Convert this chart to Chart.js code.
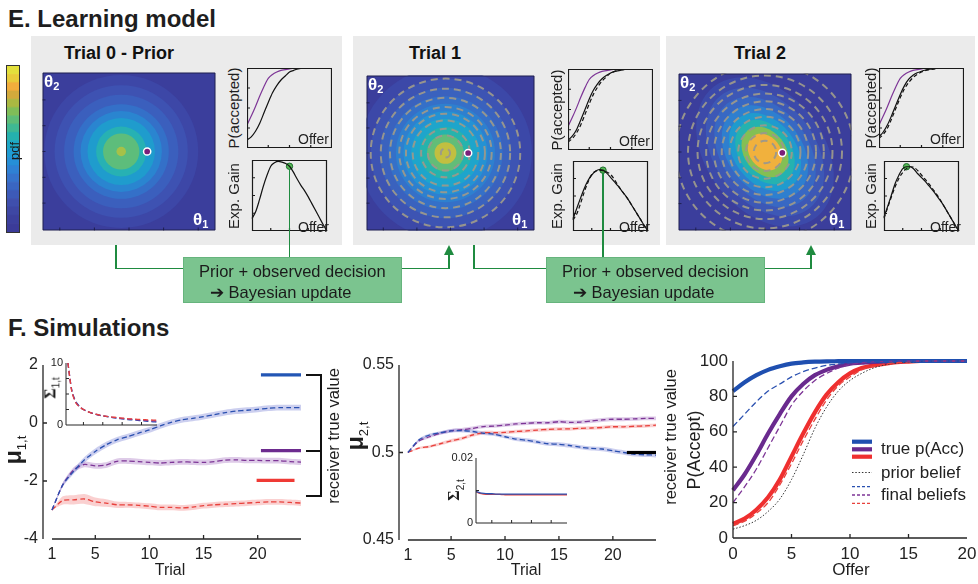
<!DOCTYPE html>
<html>
<head>
<meta charset="utf-8">
<title>Learning model</title>
<script src="https://cdn.jsdelivr.net/npm/chart.js@4.4.1/dist/chart.umd.min.js"></script>
<style>
  html, body { margin: 0; padding: 0; }
  body { width: 978px; height: 584px; position: relative; overflow: hidden; background: #fff;
         font-family: "Liberation Sans", Arial, sans-serif; color: #1e1e1e; }
  canvas { position: absolute; }
  .a { position: absolute; white-space: nowrap; line-height: 1; }
  .c { transform: translate(-50%, -50%); }
  .r { transform: translate(-50%, -50%) rotate(-90deg); }
  .panel { position: absolute; background: #ebebeb; }
  .flow { position: absolute; background: #1f8b40; }
  .box { position: absolute; background: #7bc48f; border: 1px solid #66b47d; box-sizing: border-box; }
  .th { color: #fff; font-weight: bold; font-size: 17px; }
  .th sub { font-size: 11px; vertical-align: -3px; }
</style>
</head>
<body>
<script>
// Data: learning model panels (E)
// ----------------------------------------------
const offers      = [0, 1, 2, 3, 4, 5, 6, 7, 8, 9, 10, 11, 12, 13, 14, 15, 16, 17, 18, 19, 20];
const acceptTrue  = [0.29, 0.40, 0.52, 0.65, 0.77, 0.87, 0.92, 0.95, 0.97, 0.98, 0.99, 0.995, 1, 1, 1, 1, 1, 1, 1, 1, 1];
const belief0     = [0.10, 0.14, 0.21, 0.31, 0.44, 0.57, 0.69, 0.78, 0.85, 0.90, 0.95, 0.97, 0.99, 0.995, 1, 1, 1, 1, 1, 1, 1];
const belief1     = [0.12, 0.17, 0.25, 0.37, 0.50, 0.63, 0.74, 0.82, 0.88, 0.92, 0.95, 0.97, 0.98, 0.99, 1, 1, 1, 1, 1, 1, 1];
const belief2     = [0.14, 0.20, 0.29, 0.41, 0.54, 0.67, 0.78, 0.86, 0.91, 0.94, 0.96, 0.975, 0.985, 0.99, 1, 1, 1, 1, 1, 1, 1];
const gain0       = [0.18, 0.28, 0.45, 0.64, 0.80, 0.93, 0.98, 1.00, 0.99, 0.97, 0.93, 0.85, 0.75, 0.66, 0.58, 0.49, 0.39, 0.29, 0.19, 0.09, 0];
const gain1       = [0.20, 0.37, 0.54, 0.70, 0.83, 0.92, 0.98, 1.01, 1.00, 0.95, 0.88, 0.81, 0.74, 0.66, 0.58, 0.49, 0.39, 0.29, 0.19, 0.09, 0];
const gain2       = [0.22, 0.39, 0.57, 0.75, 0.88, 0.98, 1.01, 1.01, 0.97, 0.90, 0.84, 0.78, 0.71, 0.64, 0.56, 0.48, 0.39, 0.29, 0.19, 0.09, 0];
const chosenOffer = [10, 8, 6];
const chosenGain  = [0.93, 1.00, 1.01];
const gainTop     = [1.02, 1.15, 1.10];

// Colour bar levels, bottom to top
const pdfColors = ["#3b3b98", "#3c409d", "#3e47a4", "#3f4fad", "#3d5ab8", "#3a66c2", "#3673cc", "#2f81d4", "#268fd6", "#1f9cd3",
                   "#1da7c6", "#25b1ad", "#3fb893", "#5ebc77", "#80bd58", "#aab842", "#d3aa3c", "#f2ad3c", "#e8cc3a", "#e3e03c"];

// Belief contours on (theta1, theta2)
const prior0Radius = [0.89, 0.77, 0.66, 0.55, 0.47, 0.39, 0.29, 0.21, 0.055];
const prior0Color  = ["#3d47a7", "#3e52b2", "#3b5fbd", "#3470c8", "#2a85d0", "#1f9ccd", "#27b1b3", "#5dbd7b", "#a6c148"];
const post1Radius  = [1.03, 0.89, 0.78, 0.68, 0.59, 0.50, 0.41, 0.31, 0.22, 0.13];
const post1Color   = ["#3c48a8", "#3d54b3", "#3a62be", "#3570c8", "#2e80cf", "#2592d3", "#1ea5cb", "#26b3ad", "#62bd78", "#c2bf40"];
const post2Major   = [0.96, 0.83, 0.71, 0.60, 0.50, 0.41, 0.32, 0.23];
const post2Minor   = [0.68, 0.58, 0.50, 0.43, 0.36, 0.30, 0.24, 0.18];
const post2Color   = ["#3c4aaa", "#3d58b6", "#3868c3", "#2e7fcf", "#1f9bce", "#25b2b0", "#84bf54", "#f1b13d"];
const post2Tilt    = 52;
const beliefCentre = [[-0.09, 0], [-0.06, 0], [0, 0]];
const offerPoint   = [[0.21, 0], [0.21, 0], [0.20, -0.01]];

// Data: simulations (F)
// ----------------------------------------------
const trials       = [1, 2, 3, 4, 5, 6, 7, 8, 9, 10, 11, 12, 13, 14, 15, 16, 17, 18, 19, 20, 21, 22, 23, 24];
const trialTicks   = [1, 5, 10, 15, 20];
const mu1Blue      = [-3.00, -2.13, -1.67, -1.27, -0.98, -0.75, -0.58, -0.47, -0.35, -0.24, -0.10, 0.02, 0.11, 0.16, 0.22, 0.29, 0.36, 0.41, 0.44, 0.47, 0.51, 0.53, 0.53, 0.53];
const mu1Purple    = [-3.00, -2.13, -1.62, -1.43, -1.48, -1.45, -1.32, -1.31, -1.33, -1.36, -1.38, -1.36, -1.34, -1.35, -1.36, -1.33, -1.28, -1.27, -1.29, -1.29, -1.30, -1.30, -1.33, -1.35];
const mu1Red       = [-3.00, -2.67, -2.65, -2.62, -2.72, -2.76, -2.82, -2.82, -2.84, -2.87, -2.91, -2.91, -2.93, -2.90, -2.85, -2.82, -2.80, -2.78, -2.76, -2.74, -2.72, -2.72, -2.74, -2.76];
const mu1BlueSem   = [0, 0.07, 0.09, 0.10, 0.10, 0.10, 0.10, 0.10, 0.10, 0.10, 0.10, 0.10, 0.10, 0.10, 0.10, 0.10, 0.10, 0.10, 0.10, 0.10, 0.10, 0.10, 0.10, 0.10];
const mu1PurpleSem = [0, 0.07, 0.09, 0.10, 0.10, 0.10, 0.10, 0.10, 0.10, 0.10, 0.10, 0.10, 0.10, 0.10, 0.10, 0.10, 0.10, 0.10, 0.10, 0.10, 0.10, 0.10, 0.10, 0.10];
const mu1RedSem    = [0, 0.14, 0.16, 0.17, 0.15, 0.13, 0.11, 0.10, 0.10, 0.10, 0.10, 0.10, 0.10, 0.10, 0.10, 0.10, 0.10, 0.10, 0.10, 0.10, 0.10, 0.10, 0.10, 0.10];
const mu1True      = [1.66, -0.95, -1.98];
const mu1TrueFrom  = [20.3, 20.3, 19.9];
const mu1TrueTo    = [24, 24, 23.4];

const sigma1Blue   = [10, 5.6, 3.8, 3.0, 2.5, 2.2, 1.95, 1.75, 1.6, 1.45, 1.35, 1.25, 1.15, 1.05, 0.98, 0.9, 0.85, 0.8, 0.74, 0.68, 0.62, 0.57, 0.52, 0.48];
const sigma1Purple = [10, 5.5, 3.7, 2.95, 2.5, 2.2, 1.95, 1.76, 1.61, 1.48, 1.38, 1.29, 1.2, 1.12, 1.05, 0.98, 0.93, 0.88, 0.83, 0.78, 0.74, 0.7, 0.66, 0.63];
const sigma1Red    = [10, 5.4, 3.6, 2.9, 2.5, 2.2, 1.95, 1.78, 1.62, 1.5, 1.4, 1.32, 1.25, 1.18, 1.12, 1.06, 1.0, 0.96, 0.92, 0.88, 0.85, 0.82, 0.8, 0.78];

const mu2Blue      = [0.5000, 0.5072, 0.5100, 0.5113, 0.5123, 0.5125, 0.5120, 0.5110, 0.5104, 0.5090, 0.5077, 0.5070, 0.5060, 0.5050, 0.5047, 0.5040, 0.5030, 0.5023, 0.5020, 0.5010, 0.5000, 0.4990, 0.4987, 0.4985];
const mu2Purple    = [0.5000, 0.5065, 0.5090, 0.5110, 0.5125, 0.5130, 0.5138, 0.5148, 0.5151, 0.5157, 0.5163, 0.5167, 0.5170, 0.5170, 0.5176, 0.5172, 0.5174, 0.5180, 0.5186, 0.5190, 0.5190, 0.5192, 0.5195, 0.5195];
const mu2Red       = [0.5000, 0.5025, 0.5034, 0.5050, 0.5067, 0.5080, 0.5100, 0.5113, 0.5113, 0.5115, 0.5120, 0.5123, 0.5128, 0.5132, 0.5134, 0.5135, 0.5138, 0.5140, 0.5143, 0.5147, 0.5147, 0.5150, 0.5152, 0.5156];
const mu2BlueSem   = [0, 0.0006, 0.0008, 0.0009, 0.0010, 0.0010, 0.0010, 0.0010, 0.0010, 0.0010, 0.0011, 0.0011, 0.0011, 0.0011, 0.0012, 0.0012, 0.0012, 0.0012, 0.0013, 0.0013, 0.0013, 0.0013, 0.0013, 0.0013];
const mu2PurpleSem = [0, 0.0006, 0.0008, 0.0009, 0.0010, 0.0010, 0.0010, 0.0010, 0.0010, 0.0010, 0.0010, 0.0010, 0.0010, 0.0010, 0.0011, 0.0011, 0.0011, 0.0011, 0.0011, 0.0011, 0.0011, 0.0011, 0.0011, 0.0011];
const mu2RedSem    = [0, 0.0006, 0.0008, 0.0009, 0.0010, 0.0010, 0.0010, 0.0010, 0.0010, 0.0010, 0.0010, 0.0010, 0.0010, 0.0010, 0.0010, 0.0010, 0.0010, 0.0010, 0.0010, 0.0010, 0.0010, 0.0010, 0.0010, 0.0010];
const mu2True      = 0.5;
const mu2TrueFrom  = 21.3;
const mu2TrueTo    = 24;

const sigma2Blue   = [0.0097, 0.0093, 0.0091, 0.0090, 0.0090, 0.0089, 0.0089, 0.0089, 0.0089, 0.0089, 0.0089, 0.0089, 0.0089, 0.0089, 0.0089, 0.0089, 0.0089, 0.0089, 0.0089, 0.0089, 0.0089, 0.0089, 0.0089, 0.0089];
const sigma2Red    = [0.0097, 0.0091, 0.0089, 0.0088, 0.0088, 0.0088, 0.0088, 0.0087, 0.0087, 0.0087, 0.0087, 0.0087, 0.0087, 0.0087, 0.0087, 0.0087, 0.0087, 0.0087, 0.0087, 0.0087, 0.0087, 0.0087, 0.0087, 0.0087];

const pTrueBlue     = [83, 88, 92, 95, 97, 98.5, 99.2, 99.6, 99.8, 99.9, 100, 100, 100, 100, 100, 100, 100, 100, 100, 100, 100];
const pBeliefBlue   = [63, 70, 77, 83, 87, 91, 94, 96, 97.5, 98.3, 99, 99.4, 99.7, 99.8, 99.9, 100, 100, 100, 100, 100, 100];
const pTruePurple   = [27, 36, 47, 59, 70, 80, 87, 92, 95, 97, 98.5, 99, 99.5, 99.7, 99.9, 100, 100, 100, 100, 100, 100];
const pBeliefPurple = [20, 29, 39, 51, 63, 75, 83, 89, 93, 96, 98, 99, 99.5, 99.7, 99.9, 100, 100, 100, 100, 100, 100];
const pTrueRed      = [8, 11, 16, 23, 33, 46, 59, 71, 81, 88, 93, 96, 97.5, 98.5, 99.3, 99.7, 100, 100, 100, 100, 100];
const pBeliefRed    = [7, 9.5, 14, 20, 30, 42, 55, 67, 78, 86, 91, 95, 97, 98.3, 99, 99.5, 100, 100, 100, 100, 100];
const pPrior        = [5, 7, 10, 15, 22, 33, 47, 62, 74, 83, 89, 93, 96, 97.8, 98.8, 99.4, 99.7, 99.9, 100, 100, 100];


// Colours
// ----------------------------------------------
const blue = "#2a50b0", purple = "#7d3596", red = "#e8413c";
const blueBand = "rgba(95,105,205,0.32)", purpleBand = "rgba(160,105,190,0.35)", redBand = "rgba(240,120,120,0.35)";
const green = "#1f8b40";

Chart.defaults.font.family = '"Liberation Sans", Arial, sans-serif';
Chart.defaults.color = "#222";
Chart.defaults.animation = false;
Chart.defaults.responsive = false;
Chart.defaults.plugins.legend.display = false;
Chart.defaults.plugins.tooltip.enabled = false;
Chart.defaults.elements.point.radius = 0;


// Small helpers
// ----------------------------------------------
let el = (cls, css, html) => {
    const d = document.createElement("div");
    d.className = cls;
    d.style.cssText = css;
    if (html !== undefined) d.innerHTML = html;
    document.body.appendChild(d);
    return d;
};
let canvasAt = (x, y, w, h, css) => {
    const c = document.createElement("canvas");
    c.width = w; c.height = h;
    c.style.left = x + "px"; c.style.top = y + "px";
    if (css) c.style.cssText += css;
    document.body.appendChild(c);
    return c;
};
let pts = (xs, ys) => xs.map((v, i) => ({ x: v, y: ys[i] }));
let bandPts = (mean, sem, sign) => trials.map((t, i) => ({ x: t, y: mean[i] + sign * sem[i] }));


// Plugins
// ----------------------------------------------
// MATLAB style axes: inward ticks, offset x axis or full frame
const axesBox = {
    id: "axesBox",
    afterDatasetsDraw(chart, args, o) {
        if (!o || o.off) return;
        const { ctx, chartArea: a, scales: { x, y } } = chart;
        const len = o.len || 4;
        ctx.save();
        ctx.strokeStyle = o.color || "#262626";
        ctx.lineWidth = o.width || 1;
        ctx.beginPath();
        if (o.frame) {
            ctx.rect(a.left + 0.5, a.top + 0.5, a.width - 1, a.height - 1);
        } else {
            const x0 = o.x0 !== undefined ? x.getPixelForValue(o.x0) : a.left;
            ctx.moveTo(x0, a.bottom); ctx.lineTo(a.right, a.bottom);
            ctx.moveTo(a.left, a.top); ctx.lineTo(a.left, a.bottom);
        }
        (o.xTicks || []).forEach(v => { const p = x.getPixelForValue(v); ctx.moveTo(p, a.bottom); ctx.lineTo(p, a.bottom - len); });
        (o.yTicks || []).forEach(v => { const p = y.getPixelForValue(v); ctx.moveTo(a.left, p); ctx.lineTo(a.left + len, p); });
        ctx.stroke();
        ctx.restore();
    }
};

// Filled / dashed belief contours drawn through the x/y scales
const contours = {
    id: "contours",
    beforeDatasetsDraw(chart, args, o) {
        if (!o || !o.fills) return;
        const { ctx, chartArea: a, scales: { x, y } } = chart;
        const shape = c => {
            const cx = x.getPixelForValue(c.cx), cy = y.getPixelForValue(c.cy);
            const rx = Math.abs(x.getPixelForValue(c.cx + c.rx) - cx);
            const ry = Math.abs(y.getPixelForValue(c.cy + c.ry) - cy);
            ctx.beginPath();
            ctx.ellipse(cx, cy, rx, ry, (c.rot || 0) * Math.PI / 180, 0, 2 * Math.PI);
        };
        ctx.save();
        ctx.beginPath();
        ctx.rect(a.left, a.top, a.width, a.height);
        ctx.clip();
        ctx.fillStyle = o.background;
        ctx.fillRect(a.left, a.top, a.width, a.height);
        o.fills.forEach(c => { shape(c); ctx.fillStyle = c.color; ctx.fill(); });
        ctx.setLineDash([7, 5]);
        ctx.lineWidth = 2;
        ctx.strokeStyle = "rgba(155,152,140,0.95)";
        (o.dashes || []).forEach(c => { shape(c); ctx.stroke(); });
        ctx.restore();
    }
};

// Grouped legend of panel F right
const offerLegend = {
    id: "offerLegend",
    afterDraw(chart, args, o) {
        if (!o || !o.rows) return;
        const ctx = chart.ctx;
        ctx.save();
        o.rows.forEach(r => {
            ctx.beginPath();
            ctx.setLineDash(r.dash || []);
            ctx.strokeStyle = r.color;
            ctx.lineWidth = r.width;
            ctx.moveTo(o.x, r.y); ctx.lineTo(o.x + 20, r.y);
            ctx.stroke();
        });
        ctx.setLineDash([]);
        ctx.fillStyle = "#222";
        ctx.font = '17px "Liberation Sans", Arial, sans-serif';
        ctx.textBaseline = "middle";
        o.texts.forEach(t => ctx.fillText(t.text, o.x + 29, t.y));
        ctx.restore();
    }
};


// Panel titles
// ----------------------------------------------
el("a", "left:8px;top:7px;font-size:24px;font-weight:bold;", "E. Learning model");
el("a", "left:8px;top:316px;font-size:24px;font-weight:bold;", "F. Simulations");


// E. Learning model
// ----------------------------------------------
el("panel", "left:31px;top:36px;width:311px;height:209px;");
el("panel", "left:353px;top:36px;width:307px;height:209px;");
el("panel", "left:666px;top:36px;width:309px;height:209px;");

// Colour bar
new Chart(canvasAt(6, 65, 14, 168, "border:1px solid #333;"), {
    type: "bar",
    data: {
        labels: [""],
        datasets: pdfColors.map(c => ({ data: [1], backgroundColor: c, borderWidth: 0, barPercentage: 1, categoryPercentage: 1 }))
    },
    options: {
        layout: { padding: 0 },
        scales: {
            x: { display: false, stacked: true },
            y: { display: false, stacked: true, min: 0, max: pdfColors.length }
        }
    }
});

const trialLayout = [
    { title: "Trial 0 - Prior", tx: 119, heat: [37, 67, 184, 169],  p: [247, 68, 85, 80], e: [247, 155, 85, 81], lx: 233 },
    { title: "Trial 1",         tx: 435, heat: [361, 70, 179, 166], p: [568, 69, 85, 81], e: [568, 156, 85, 80], lx: 556 },
    { title: "Trial 2",         tx: 760, heat: [673, 68, 184, 168], p: [879, 68, 85, 80], e: [879, 156, 85, 80], lx: 870 }
];

let circles = (radii, colors, c) => radii.map((r, i) => ({ cx: c[0], cy: c[1], rx: r, ry: r, color: colors ? colors[i] : null }));

const contourSets = [
    { fills: circles(prior0Radius, prior0Color, beliefCentre[0]), dashes: [] },
    { fills: circles(post1Radius, post1Color, beliefCentre[1]), dashes: circles(prior0Radius, null, beliefCentre[1]) },
    { fills: post2Major.map((m, i) => ({ cx: beliefCentre[2][0], cy: beliefCentre[2][1], rx: m, ry: post2Minor[i], rot: post2Tilt, color: post2Color[i] })),
      dashes: circles(post1Radius, null, beliefCentre[2]) }
];

const acceptSeries = [
    [[acceptTrue, purple, false], [belief0, "#111", false]],
    [[acceptTrue, purple, false], [belief1, "#111", false], [belief0, "#111", true]],
    [[acceptTrue, purple, false], [belief2, "#111", false], [belief1, "#111", true]]
];
const gainSeries = [
    [[gain0, "#111", false]],
    [[gain1, "#111", false], [gain0, "#111", true]],
    [[gain2, "#111", false], [gain1, "#111", true]]
];

let smallLine = ([ys, color, dashed]) => ({
    data: pts(offers, ys), borderColor: color, borderWidth: 1.2, borderDash: dashed ? [4, 2.5] : [],
    cubicInterpolationMode: "monotone", fill: false, clip: 2
});

let smallPlot = (box, datasets, ymax) => new Chart(canvasAt(box[0], box[1], box[2], box[3]), {
    type: "line",
    data: { datasets },
    options: {
        layout: { padding: 0 },
        plugins: { axesBox: { frame: true, color: "#1a1a1a", width: 1.2, len: 3, xTicks: [5, 10, 15], yTicks: [0.25 * ymax, 0.5 * ymax, 0.75 * ymax] } },
        scales: { x: { type: "linear", display: false, min: 0, max: 20 }, y: { display: false, min: 0, max: ymax } }
    },
    plugins: [axesBox]
});

const dotPixels = [];

trialLayout.forEach((t, k) => {
    const [hx, hy, hw, hh] = t.heat;
    const ratio = hh / hw;

    el("a c", `left:${t.tx}px;top:53px;font-size:18px;font-weight:bold;color:#111;`, t.title);

    // Belief map
    new Chart(canvasAt(hx, hy, hw, hh), {
        type: "scatter",
        data: { datasets: [{ data: [{ x: offerPoint[k][0], y: offerPoint[k][1] }], pointRadius: 3.6,
                             pointBackgroundColor: "#7b1f79", pointBorderColor: "#fff", pointBorderWidth: 1.5 }] },
        options: {
            layout: { padding: 0 },
            plugins: {
                contours: { background: "#3b3e9c", fills: contourSets[k].fills, dashes: contourSets[k].dashes },
                axesBox: { frame: true, color: "rgba(20,20,50,0.7)", width: 1, len: 3,
                           xTicks: [-0.8, -0.4, 0, 0.4, 0.8], yTicks: [-0.6, -0.3, 0, 0.3, 0.6] }
            },
            scales: { x: { display: false, min: -1, max: 1 }, y: { display: false, min: -ratio, max: ratio } }
        },
        plugins: [contours, axesBox]
    });
    el("a th", `left:${hx + 7}px;top:${hy + 6}px;`, "θ<sub>2</sub>");
    el("a th", `left:${hx + hw - 28}px;top:${hy + hh - 25}px;`, "θ<sub>1</sub>");

    // P(accepted) and expected gain
    smallPlot(t.p, acceptSeries[k].map(smallLine), 1);
    const gainChart = smallPlot(t.e, gainSeries[k].map(smallLine).concat([{
        data: [{ x: chosenOffer[k], y: chosenGain[k] }], pointRadius: 3.2, pointBackgroundColor: "#55b955",
        pointBorderColor: "#1d6b2c", pointBorderWidth: 1, showLine: false, clip: false
    }]), gainTop[k]);
    dotPixels.push([t.e[0] + gainChart.scales.x.getPixelForValue(chosenOffer[k]),
                    t.e[1] + gainChart.scales.y.getPixelForValue(chosenGain[k])]);

    el("a r", `left:${t.lx}px;top:${t.p[1] + t.p[3] / 2}px;font-size:15px;`, "P(accepted)");
    el("a r", `left:${t.lx}px;top:${t.e[1] + t.e[3] / 2}px;font-size:15px;`, "Exp. Gain");
    el("a", `left:${t.p[0] + t.p[2] - 34}px;top:${t.p[1] + t.p[3] - 16}px;font-size:14px;`, "Offer");
    el("a", `left:${t.e[0] + t.e[2] - 34}px;top:${t.e[1] + t.e[3] - 16}px;font-size:14px;`, "Offer");
});

el("a r", "left:14px;top:151px;font-size:13px;color:#1a1a1a;", "pdf");


// Update flow between trials
// ----------------------------------------------
[[115, 183, 402, 448, 0], [473, 546, 765, 810, 1]].forEach(([xa, bl, br, xr, k]) => {
    el("flow", `left:${xa}px;top:245px;width:1.5px;height:24px;`);
    el("flow", `left:${xa}px;top:267.5px;width:${bl - xa}px;height:1.5px;`);
    el("flow", `left:${br}px;top:267.5px;width:${xr - br + 1.5}px;height:1.5px;`);
    el("flow", `left:${xr}px;top:254px;width:1.5px;height:15px;`);
    el("a", `left:${xr - 4.2}px;top:245px;width:0;height:0;border-left:5px solid transparent;border-right:5px solid transparent;border-bottom:10px solid ${green};`);
    const [dx, dy] = dotPixels[k];
    el("flow", `left:${dx - 0.75}px;top:${dy + 3}px;width:1.5px;height:${257 - dy - 3}px;`);
    el("box", `left:${bl}px;top:257px;width:${br - bl}px;height:46px;`);
    el("a", `left:${bl + 16}px;top:263px;font-size:16.5px;color:#1b1b1b;`, "Prior + observed decision");
    el("a", `left:${bl + 27}px;top:284px;font-size:16.5px;color:#1b1b1b;`, "➔ Bayesian update");
});


// F. Simulations: belief means
// ----------------------------------------------
let meanLine = (mean, color) => ({ data: pts(trials, mean), borderColor: color, borderWidth: 1.3, borderDash: [5, 3], tension: 0.25, fill: false });
let bandPair = (mean, sem, color) => [
    { data: bandPts(mean, sem, 1), borderWidth: 0, tension: 0.25, fill: false },
    { data: bandPts(mean, sem, -1), borderWidth: 0, tension: 0.25, fill: "-1", backgroundColor: color }
];
let flatLine = (y, from, to, color) => ({ data: [{ x: from, y }, { x: to, y }], borderColor: color, borderWidth: 3.2, fill: false });
let tickFont = { size: 16 };

// mu 1
new Chart(canvasAt(0, 350, 310, 234), {
    type: "line",
    data: {
        datasets: [
            flatLine(mu1True[0], mu1TrueFrom[0], mu1TrueTo[0], "#2356b5"),
            flatLine(mu1True[1], mu1TrueFrom[1], mu1TrueTo[1], "#6d2b8f"),
            flatLine(mu1True[2], mu1TrueFrom[2], mu1TrueTo[2], "#ef3a35"),
            meanLine(mu1Blue, blue), meanLine(mu1Purple, purple), meanLine(mu1Red, red),
            ...bandPair(mu1Blue, mu1BlueSem, blueBand),
            ...bandPair(mu1Purple, mu1PurpleSem, purpleBand),
            ...bandPair(mu1Red, mu1RedSem, redBand)
        ]
    },
    options: {
        layout: { padding: { top: 15, right: 9, left: 0, bottom: 0 } },
        plugins: { axesBox: { x0: 1, xTicks: [5, 10, 15, 20], yTicks: [-2, 0], len: 4, width: 1.3 } },
        scales: {
            x: { type: "linear", min: 0.17, max: 24, grid: { display: false, drawTicks: false }, border: { display: false },
                 ticks: { padding: 6, font: tickFont },
                 afterBuildTicks: s => { s.ticks = trialTicks.map(v => ({ value: v })); },
                 afterFit: s => { s.height = 45; s.paddingLeft = 0; s.paddingRight = 0; } },
            y: { min: -4, max: 2, grid: { display: false, drawTicks: false }, border: { display: false },
                 ticks: { stepSize: 2, padding: 5, font: tickFont },
                 afterFit: s => { s.width = 43; s.paddingTop = 0; s.paddingBottom = 0; } }
        }
    },
    plugins: [axesBox]
});

// Sigma 1 inset
new Chart(canvasAt(50, 355, 115, 75), {
    type: "line",
    data: { datasets: [meanLine(sigma1Red, red), meanLine(sigma1Purple, purple), meanLine(sigma1Blue, blue)] },
    options: {
        layout: { padding: { top: 8, right: 8, left: 0, bottom: 0 } },
        plugins: { axesBox: { xTicks: [5, 10, 15, 20], yTicks: [2.5, 5, 7.5], len: 3, width: 1 } },
        scales: {
            x: { type: "linear", min: 0.5, max: 24, display: true, grid: { display: false, drawTicks: false }, border: { display: false },
                 ticks: { display: false },
                 afterFit: s => { s.height = 5; s.paddingLeft = 0; s.paddingRight = 0; } },
            y: { min: 0, max: 10, grid: { display: false, drawTicks: false }, border: { display: false },
                 ticks: { padding: 3, font: { size: 11 } },
                 afterBuildTicks: s => { s.ticks = [{ value: 0 }, { value: 10 }]; },
                 afterFit: s => { s.width = 16; s.paddingTop = 0; s.paddingBottom = 0; } }
        }
    },
    plugins: [axesBox]
});

// mu 2
new Chart(canvasAt(340, 350, 330, 234), {
    type: "line",
    data: {
        datasets: [
            flatLine(mu2True, mu2TrueFrom, mu2TrueTo, "#000"),
            meanLine(mu2Blue, blue), meanLine(mu2Purple, purple), meanLine(mu2Red, red),
            ...bandPair(mu2Blue, mu2BlueSem, blueBand),
            ...bandPair(mu2Purple, mu2PurpleSem, purpleBand),
            ...bandPair(mu2Red, mu2RedSem, redBand)
        ]
    },
    options: {
        layout: { padding: { top: 15, right: 14, left: 0, bottom: 0 } },
        plugins: { axesBox: { x0: 1, xTicks: [5, 10, 15, 20], yTicks: [0.5], len: 4, width: 1.3 } },
        scales: {
            x: { type: "linear", min: 0.17, max: 24, grid: { display: false, drawTicks: false }, border: { display: false },
                 ticks: { padding: 6, font: tickFont },
                 afterBuildTicks: s => { s.ticks = trialTicks.map(v => ({ value: v })); },
                 afterFit: s => { s.height = 44; s.paddingLeft = 0; s.paddingRight = 0; } },
            y: { min: 0.45, max: 0.55, grid: { display: false, drawTicks: false }, border: { display: false },
                 ticks: { padding: 5, font: tickFont, callback: v => String(v) },
                 afterBuildTicks: s => { s.ticks = [0.45, 0.5, 0.55].map(v => ({ value: v })); },
                 afterFit: s => { s.width = 59; s.paddingTop = 0; s.paddingBottom = 0; } }
        }
    },
    plugins: [axesBox]
});

// Sigma 2 inset
new Chart(canvasAt(440, 450, 135, 78), {
    type: "line",
    data: { datasets: [
        { data: pts(trials, sigma2Blue), borderColor: blue, borderWidth: 1.3, tension: 0.25, fill: false },
        { data: pts(trials, sigma2Red), borderColor: red, borderWidth: 1.3, tension: 0.25, fill: false }
    ] },
    options: {
        layout: { padding: { top: 8, right: 8, left: 0, bottom: 0 } },
        plugins: { axesBox: { xTicks: [5, 10, 15, 20], yTicks: [0.01], len: 3, width: 1 } },
        scales: {
            x: { type: "linear", min: 1, max: 24, grid: { display: false, drawTicks: false }, border: { display: false },
                 ticks: { display: false },
                 afterFit: s => { s.height = 5; s.paddingLeft = 0; s.paddingRight = 0; } },
            y: { min: 0, max: 0.02, grid: { display: false, drawTicks: false }, border: { display: false },
                 ticks: { padding: 3, font: { size: 11 }, callback: v => String(v) },
                 afterBuildTicks: s => { s.ticks = [{ value: 0 }, { value: 0.02 }]; },
                 afterFit: s => { s.width = 36; s.paddingTop = 0; s.paddingBottom = 0; } }
        }
    },
    plugins: [axesBox]
});


// F. Simulations: acceptance curves
// ----------------------------------------------
let thick = (ys, color) => ({ data: pts(offers, ys), borderColor: color, borderWidth: 4.2, cubicInterpolationMode: "monotone", fill: false, clip: 6 });
let thin = (ys, color, dash, w) => ({ data: pts(offers, ys), borderColor: color, borderWidth: w, borderDash: dash, cubicInterpolationMode: "monotone", fill: false, clip: 6 });

new Chart(canvasAt(680, 345, 298, 239), {
    type: "line",
    data: {
        datasets: [
            thin(pBeliefBlue, blue, [6, 3], 1.3), thin(pBeliefPurple, purple, [6, 3], 1.3), thin(pBeliefRed, red, [6, 3], 1.3),
            thin(pPrior, "#333", [1.5, 1.8], 1),
            thick(pTrueBlue, "#1f4fb0"), thick(pTruePurple, "#6a2a8e"), thick(pTrueRed, "#ef2f2f")
        ]
    },
    options: {
        layout: { padding: { top: 16, right: 11, left: 0, bottom: 0 } },
        plugins: {
            axesBox: { xTicks: [5, 10, 15], yTicks: [20, 40, 60, 80], len: 4, width: 1.3 },
            offerLegend: {
                x: 172,
                rows: [
                    { y: 96.7, color: "#1f4fb0", width: 4.2 }, { y: 104.3, color: "#6a2a8e", width: 4.2 }, { y: 111.7, color: "#ef2f2f", width: 4.2 },
                    { y: 127.5, color: "#333", width: 1, dash: [1.5, 1.8] },
                    { y: 141.7, color: blue, width: 1.3, dash: [3, 2] }, { y: 150, color: purple, width: 1.3, dash: [3, 2] }, { y: 158.3, color: red, width: 1.3, dash: [3, 2] }
                ],
                texts: [{ text: "true p(Acc)", y: 104.5 }, { text: "prior belief", y: 128 }, { text: "final beliefs", y: 150.5 }]
            }
        },
        scales: {
            x: { type: "linear", min: 0, max: 20, grid: { display: false, drawTicks: false }, border: { display: false },
                 ticks: { stepSize: 5, padding: 6, font: { size: 17 } },
                 afterFit: s => { s.height = 46; s.paddingLeft = 0; s.paddingRight = 0; } },
            y: { min: 0, max: 100, grid: { display: false, drawTicks: false }, border: { display: false },
                 ticks: { stepSize: 20, padding: 5, font: { size: 17 } },
                 afterFit: s => { s.width = 53; s.paddingTop = 0; s.paddingBottom = 0; } }
        }
    },
    plugins: [axesBox, offerLegend]
});


// Axis titles and annotations
// ----------------------------------------------
el("a r", "left:15px;top:450px;font-size:23px;font-weight:bold;", "μ<sub style='font-size:13px;font-weight:normal;'>1,t</sub>");
el("a r", "left:52px;top:388px;font-size:16px;font-weight:bold;font-family:'Liberation Serif',serif;", "Σ<sub style='font-size:10px;font-family:Liberation Sans,sans-serif;font-weight:normal;'>1,t</sub>");
el("a c", "left:170px;top:570px;font-size:16px;", "Trial");
el("a r", "left:333px;top:436px;font-size:16.5px;", "receiver true value");
el("a", "left:306px;top:374px;width:14px;height:119px;border:2px solid #111;border-left:none;");
el("a", "left:306px;top:450px;width:15px;height:2px;background:#111;");

el("a r", "left:357px;top:436px;font-size:23px;font-weight:bold;", "μ<sub style='font-size:13px;font-weight:normal;'>2,t</sub>");
el("a r", "left:456px;top:490px;font-size:16px;font-weight:bold;font-family:'Liberation Serif',serif;", "Σ<sub style='font-size:10px;font-family:Liberation Sans,sans-serif;font-weight:normal;'>2,t</sub>");
el("a c", "left:526px;top:570px;font-size:16px;", "Trial");
el("a r", "left:670px;top:437px;font-size:16.5px;", "receiver true value");

el("a r", "left:694px;top:450px;font-size:18px;", "P(Accept)");
el("a c", "left:851px;top:569px;font-size:17px;", "Offer");
</script>
</body>
</html>
